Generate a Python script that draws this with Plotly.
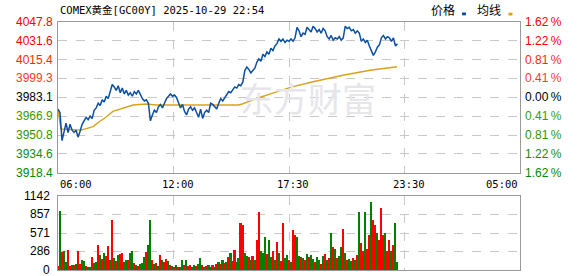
import pandas as pd
import plotly.graph_objects as go

# ---------------- data ----------------
title_text = "COMEX黄金[GC00Y] 2025-10-29 22:54"
session_start = "2025-10-29 06:00"
session_end = "2025-10-30 05:00"

# price every 6 minutes from 06:00 to 22:54
price = [
    3973, 3970, 3946, 3955, 3961, 3953, 3960, 3955, 3953, 3955,
    3949, 3954, 3960, 3963, 3966, 3964, 3967, 3965, 3972, 3974,
    3978, 3976, 3981, 3979, 3984, 3982, 3988, 3994, 3992, 3989,
    3993, 3987, 3991, 3986, 3989, 3985, 3987, 3984, 3988, 3986,
    3989, 3985, 3982, 3980, 3981, 3978, 3963, 3968, 3972, 3970,
    3975, 3977, 3974, 3978, 3982, 3984, 3986, 3984, 3985, 3983,
    3978, 3974, 3977, 3971, 3968, 3973, 3975, 3972, 3974, 3970,
    3966, 3973, 3965, 3970, 3972, 3970, 3978, 3977, 3975, 3973,
    3978, 3982, 3980, 3983, 3986, 3988, 3987, 3990, 3992, 3991,
    3994, 3993, 3996, 4006, 4009, 4007, 4004, 4006, 4008, 4013,
    4016, 4014, 4020, 4018, 4022, 4020, 4025, 4023, 4027, 4029,
    4033, 4031, 4033, 4030, 4032, 4031, 4033, 4031, 4034, 4043,
    4040, 4035, 4038, 4037, 4043, 4041, 4039, 4044, 4042, 4039,
    4041, 4038, 4042, 4040, 4035, 4033, 4036, 4032, 4034, 4033,
    4035, 4032, 4034, 4044, 4042, 4043, 4040, 4041, 4038, 4040,
    4038, 4031, 4033, 4030, 4032, 4027, 4023, 4019, 4022, 4026,
    4028, 4034, 4036, 4033, 4035, 4034, 4031, 4034, 4027, 4029,
]

avg_times = ["06:00", "06:09", "07:09", "07:45", "08:02", "08:23", "08:44", "09:05",
             "09:23", "09:44", "10:23", "10:53", "11:52", "14:58", "15:10", "15:40",
             "16:09", "16:39", "17:09", "17:39", "18:42", "20:11", "21:32", "22:53"]
avg_values = [3972, 3956, 3955, 3958, 3962, 3966, 3971, 3973,
              3975, 3976.5, 3977.4, 3976.5, 3976.5, 3976.5, 3977.4, 3980.8,
              3983.6, 3986.5, 3989.3, 3992, 3996.4, 4002, 4006.3, 4009.2]

volume = [
    60, 916, 283, 293, 120, 309, 60, 80, 70, 90,
    293, 100, 150, 140, 60, 40, 50, 200, 110, 120,
    386, 230, 170, 260, 210, 370, 150, 772, 180, 140,
    230, 250, 270, 120, 160, 150, 260, 293, 110, 80,
    60, 90, 110, 200, 280, 386, 772, 150, 90, 110,
    60, 230, 160, 130, 170, 140, 80, 60, 40, 70,
    50, 40, 160, 80, 160, 60, 80, 50, 70, 60,
    90, 180, 70, 50, 60, 80, 40, 70, 50, 100,
    120, 90, 150, 110, 130, 200, 260, 140, 309, 120,
    180, 720, 694, 260, 220, 200, 160, 210, 150, 463,
    900, 290, 270, 514, 250, 463, 200, 300, 150, 437,
    260, 140, 720, 180, 230, 150, 120, 617, 540, 514,
    220, 200, 180, 160, 250, 200, 230, 170, 120, 200,
    150, 100, 210, 250, 160, 180, 566, 360, 330, 190,
    220, 350, 628, 260, 150, 170, 140, 190, 160, 230,
    900, 411, 300, 900, 330, 540, 1054, 772, 694, 566,
    463, 950, 540, 566, 290, 463, 300, 386, 720, 130,
]
volume_dir = ("rgrggrrgrg" "rrggrggrgg" "rgrgrrgrgr" "grrggrggrg" "rgggrggrgr"
              "grgrrgrgrg" "rggrgrrggr" "ggrgrggrgr" "grgrgrgrrg" "grrggrgrgr"
              "rgggrggrgr" "grrggrgrrg" "grgrgrggrg" "grgrgrgrgr" "ggrgrggrgr"
              "grrgrrgrrg" "rrrgrrgrgg")

price_ticks = [4047.8, 4031.6, 4015.4, 3999.3, 3983.1, 3966.9, 3950.8, 3934.6, 3918.4]
price_tick_labels = ["4047.8", "4031.6", "4015.4", "3999.3", "3983.1", "3966.9", "3950.8", "3934.6", "3918.4"]
pct_tick_labels = ["1.62", "1.22", "0.81", "0.41", "0.00", "0.41", "0.81", "1.22", "1.62"]
label_colors = ["#ff0000", "#ff0000", "#ff2a00", "#ff3a2a", "#000000", "#3c9a00", "#2f9400", "#108a20", "#008a00"]
vol_ticks = [1142, 857, 571, 286, 0]
vol_tick_labels = ["1142", "857", "571", "286", "0"]
time_labels = ["06:00", "12:00", "17:30", "23:30", "05:00"]

# ---------------- build ----------------
t0 = pd.Timestamp(session_start)
t1 = pd.Timestamp(session_end)
times = pd.date_range(t0, periods=len(price), freq="6min")
avg_x = [pd.Timestamp("2025-10-29 " + t) for t in avg_times]
quarter = (t1 - t0) / 4
grid_x = [t0 + quarter * k for k in range(5)]

BLUE = "#0b4fa3"
ORANGE = "#daa21a"
RED = "#ff0000"
GREEN = "#008000"
GRID = "#c8c8c8"
BORDER = "#9a9a9a"

fig = go.Figure()
fig.add_trace(go.Scatter(x=avg_x, y=avg_values, mode="lines",
                         line=dict(color=ORANGE, width=1.4),
                         xaxis="x", yaxis="y", hoverinfo="skip"))
fig.add_trace(go.Scatter(x=times, y=price, mode="lines",
                         line=dict(color=BLUE, width=1.5),
                         xaxis="x", yaxis="y", hoverinfo="skip"))
fig.add_trace(go.Bar(x=times, y=volume,
                     marker=dict(color=[RED if c == "r" else GREEN for c in volume_dir], line=dict(width=0)),
                     width=6 * 60 * 1000 * 0.85,
                     xaxis="x2", yaxis="y2", hoverinfo="skip"))

H = 276.0
W0, W1 = 58.0, 520.0


def py(ypx):
    return (H - ypx) / H


def px(xpx):
    return (xpx - W0) / (W1 - W0)


axis_common = dict(showline=True, mirror=True, linecolor=BORDER, linewidth=1,
                   showgrid=True, gridcolor=GRID, griddash="dash", gridwidth=1,
                   zeroline=False, ticks="", showticklabels=False, fixedrange=True)

fig.update_layout(
    width=578, height=276,
    margin=dict(l=58, r=58, t=0, b=0),
    paper_bgcolor="white", plot_bgcolor="white",
    showlegend=False, bargap=0,
    xaxis=dict(domain=[0, 1], anchor="y", type="date", range=[t0, t1],
               tickvals=grid_x, **axis_common),
    yaxis=dict(domain=[py(172.9), py(21.7)], anchor="x", range=[3918.4, 4047.8],
               tickvals=price_ticks, **axis_common),
    xaxis2=dict(domain=[0, 1], anchor="y2", type="date", range=[t0, t1],
                tickvals=grid_x, **axis_common),
    yaxis2=dict(domain=[py(270), py(196)], anchor="x2", range=[0, 1142],
                tickvals=vol_ticks, **axis_common),
)

ann = []
num_font = "Liberation Sans, Arial, sans-serif"
# title
ann.append(dict(text=title_text, xref="paper", yref="paper", x=0, y=py(9.5),
                xanchor="left", yanchor="middle", showarrow=False,
                font=dict(family="DejaVu Sans Mono, Noto Sans CJK SC", size=10.5, color="#000")))
# legend
ann.append(dict(text="价格", xref="paper", yref="paper", x=px(443), y=py(9.5),
                xanchor="center", yanchor="middle", showarrow=False,
                font=dict(family="Noto Sans CJK SC", size=12, color="#000")))
ann.append(dict(text="均线", xref="paper", yref="paper", x=px(488.5), y=py(9.5),
                xanchor="center", yanchor="middle", showarrow=False,
                font=dict(family="Noto Sans CJK SC", size=12, color="#000")))
# watermark
ann.append(dict(text="东方财富", xref="paper", yref="paper", x=px(308), y=py(97),
                xanchor="center", yanchor="middle", showarrow=False,
                font=dict(family="Noto Sans CJK SC", size=34, color="#e6e6ea")))
# price / percent labels
for v, lab, pct, col in zip(price_ticks, price_tick_labels, pct_tick_labels, label_colors):
    ann.append(dict(text=lab, xref="paper", yref="y", x=0, y=v, xanchor="right", yanchor="middle",
                    xshift=-3, showarrow=False, font=dict(family=num_font, size=12, color=col)))
    ann.append(dict(text=pct + "\u2009%", xref="paper", yref="y", x=1, y=v, xanchor="left", yanchor="middle",
                    xshift=3, showarrow=False, font=dict(family=num_font, size=12, color=col)))
# volume labels
for v, lab in zip(vol_ticks, vol_tick_labels):
    ann.append(dict(text=lab, xref="paper", yref="y2", x=0, y=v, xanchor="right", yanchor="middle",
                    xshift=-6, showarrow=False, font=dict(family=num_font, size=12, color="#000")))
# time labels
for k, lab in enumerate(time_labels):
    xa = "left" if k == 0 else ("right" if k == len(time_labels) - 1 else "center")
    shift = 0 if k in (0, len(time_labels) - 1) else 4
    ann.append(dict(text=lab, xref="x", yref="paper", x=grid_x[k], y=py(183.5), xanchor=xa,
                    yanchor="middle", xshift=shift, showarrow=False,
                    font=dict(family="DejaVu Sans Mono", size=10.5, color="#000")))
fig.update_layout(annotations=ann)

# legend swatches
fig.add_shape(type="rect", xref="paper", yref="paper", x0=px(462), x1=px(466), y0=py(15.3), y1=py(12.5),
              fillcolor=BLUE, line=dict(width=0))
fig.add_shape(type="rect", xref="paper", yref="paper", x0=px(508.5), x1=px(512.5), y0=py(15.5), y1=py(12.7),
              fillcolor=ORANGE, line=dict(width=0))

fig.write_html("out.html")
